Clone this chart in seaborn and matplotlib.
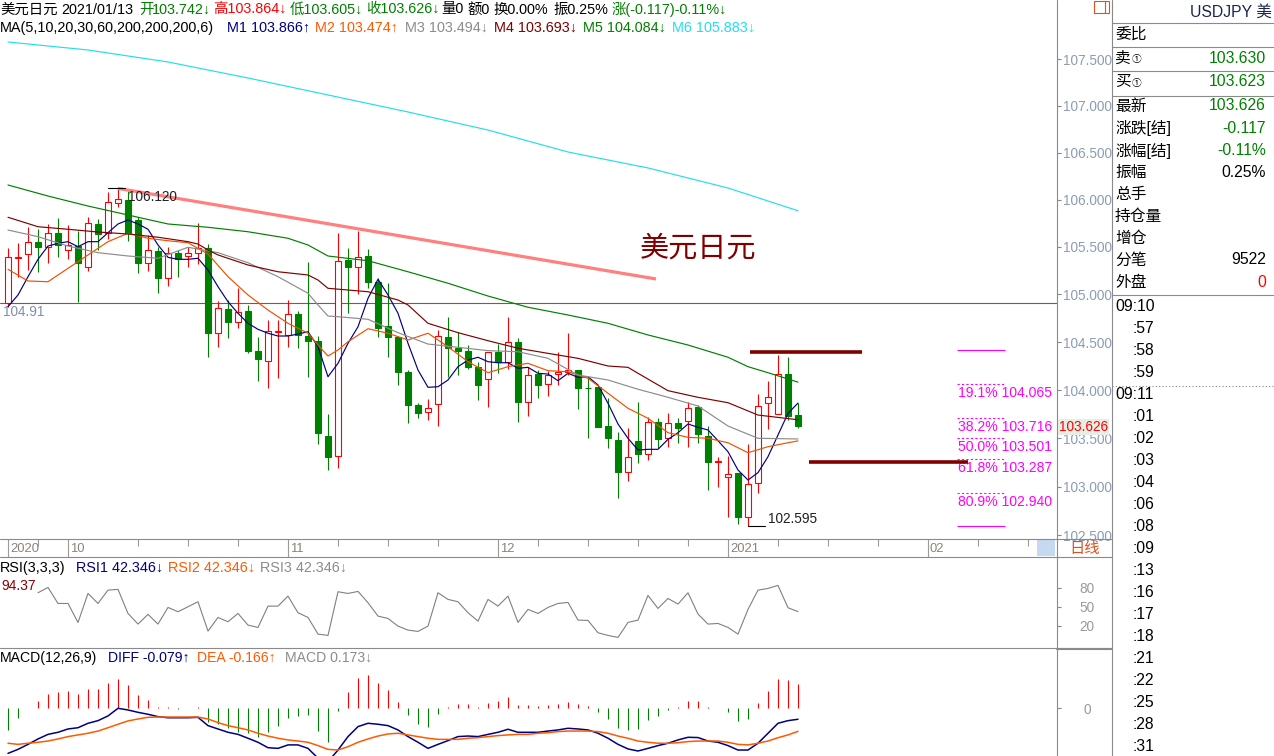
import numpy as np
import pandas as pd
import seaborn as sns
import matplotlib.pyplot as plt
import matplotlib.ticker as mticker
from matplotlib.lines import Line2D
from matplotlib.patches import Rectangle

# ---------------- data ----------------
opens = [104.914, 105.389, 105.422, 105.556, 105.503, 105.645, 105.468, 105.510, 105.292, 105.743,
         105.651, 105.962, 105.997, 105.785, 105.328, 105.458, 105.170, 105.433, 105.405, 105.433,
         105.492, 104.594, 104.845, 104.715, 104.827, 104.408, 104.307, 104.604, 104.576, 104.792,
         104.565, 104.513, 103.525, 103.318, 105.363, 105.292, 105.405, 105.134, 104.670, 104.558,
         104.192, 103.846, 103.770, 103.853, 104.558, 104.437, 104.408, 104.245, 104.113, 104.401,
         104.297, 104.505, 103.880, 104.168, 104.061, 104.168, 104.192, 104.210, 104.026, 104.036,
         103.628, 103.483, 103.150, 103.473, 103.339, 103.667, 103.501, 103.656, 103.683, 103.822,
         103.525, 103.259, 103.104, 103.146, 102.693, 103.036, 103.864, 103.750, 104.168, 103.742]
highs = [105.486, 105.539, 105.708, 105.687, 105.743, 105.809, 105.732, 105.669, 105.814, 105.796,
         106.080, 106.120, 106.095, 105.820, 105.627, 105.503, 105.497, 105.468, 105.503, 105.757,
         105.531, 104.932, 104.942, 105.065, 104.890, 104.558, 104.733, 104.733, 104.942, 104.827,
         105.339, 104.565, 103.753, 105.645, 105.486, 105.669, 105.476, 105.170, 105.118, 104.558,
         104.210, 103.864, 103.906, 104.628, 104.761, 104.610, 104.471, 104.297, 104.401, 104.481,
         104.761, 104.541, 104.245, 104.210, 104.203, 104.401, 104.600, 104.210, 104.140, 104.036,
         103.916, 103.569, 103.604, 103.880, 103.725, 103.708, 103.766, 103.708, 103.880, 103.846,
         103.628, 103.311, 103.318, 103.146, 103.439, 103.957, 104.096, 104.367, 104.343, 103.864]
lows = [104.872, 105.187, 105.257, 105.239, 105.334, 105.391, 105.370, 104.924, 105.250, 105.468,
        105.581, 105.920, 105.566, 105.229, 105.250, 105.019, 105.092, 105.181, 105.292, 105.320,
        104.343, 104.453, 104.541, 104.646, 104.384, 104.099, 104.020, 104.124, 104.453, 104.437,
        104.140, 103.442, 103.173, 103.191, 104.809, 105.005, 105.065, 104.552, 104.349, 104.054,
        103.656, 103.708, 103.690, 103.631, 104.140, 104.158, 104.218, 103.898, 103.822, 104.176,
        104.218, 103.673, 103.735, 103.916, 103.943, 104.054, 104.158, 103.801, 103.501, 103.621,
        103.397, 102.882, 103.063, 103.243, 103.276, 103.397, 103.414, 103.455, 103.408, 103.455,
        102.967, 102.995, 102.693, 102.620, 102.595, 102.940, 103.597, 103.750, 103.690, 103.605]
closes = [105.391, 105.399, 105.556, 105.503, 105.645, 105.521, 105.521, 105.328, 105.750, 105.637,
          105.973, 106.011, 105.645, 105.334, 105.468, 105.176, 105.433, 105.370, 105.436, 105.486,
          104.594, 104.855, 104.715, 104.819, 104.408, 104.322, 104.621, 104.621, 104.792, 104.576,
          104.516, 103.553, 103.304, 105.352, 105.292, 105.398, 105.134, 104.646, 104.558, 104.192,
          103.846, 103.766, 103.812, 104.565, 104.437, 104.412, 104.245, 104.054, 104.401, 104.297,
          104.499, 103.880, 104.158, 104.054, 104.158, 104.192, 104.210, 104.026, 104.020, 103.621,
          103.501, 103.156, 103.304, 103.335, 103.673, 103.494, 103.656, 103.611, 103.818, 103.542,
          103.259, 103.270, 103.129, 102.693, 103.026, 103.836, 103.926, 104.165, 103.735, 103.626]

ma5 = [104.872, 104.995, 105.187, 105.370, 105.510, 105.539, 105.556, 105.503, 105.556, 105.556,
       105.651, 105.743, 105.785, 105.743, 105.687, 105.521, 105.391, 105.370, 105.370, 105.381,
       105.257, 105.082, 104.924, 104.803, 104.698, 104.635, 104.594, 104.565, 104.565, 104.586,
       104.610, 104.453, 104.140, 104.280, 104.489, 104.662, 104.960, 105.160, 104.995, 104.803,
       104.489, 104.210, 104.030, 104.036, 104.106, 104.245, 104.314, 104.343, 104.297, 104.286,
       104.286, 104.228, 104.238, 104.176, 104.168, 104.099, 104.176, 104.134, 104.140, 104.054,
       103.864, 103.649, 103.501, 103.380, 103.387, 103.387, 103.490, 103.559, 103.649, 103.615,
       103.587, 103.476, 103.362, 103.173, 103.070, 103.146, 103.311, 103.535, 103.760, 103.866]
ma10_x = [0, 2, 4, 6, 8, 10, 12, 14, 16, 18, 20, 22, 24, 26, 28, 30, 31, 32, 33, 34, 36, 38,
          40, 42, 44, 46, 48, 50, 52, 54, 56, 58, 60, 62, 64, 66, 68, 70, 72, 74, 76, 78, 79]
ma10 = [105.265, 105.142, 105.134, 105.275, 105.416, 105.556, 105.645, 105.592, 105.566, 105.545,
        105.426, 105.187, 104.995, 104.837, 104.698, 104.594, 104.471, 104.356, 104.419, 104.505,
        104.641, 104.594, 104.523, 104.594, 104.453, 104.297, 104.182, 104.245, 104.280, 104.203,
        104.192, 104.124, 103.968, 103.812, 103.708, 103.559, 103.511, 103.501, 103.455, 103.352,
        103.414, 103.455, 103.474]
ma20_x = [0, 3, 6, 9, 12, 15, 18, 21, 24, 27, 30, 31, 32, 33, 36, 39, 42, 45, 48, 51, 54, 57,
          60, 63, 66, 69, 72, 75, 79]
ma20 = [105.679, 105.609, 105.510, 105.440, 105.405, 105.381, 105.497, 105.440, 105.334, 105.187,
        105.013, 104.890, 104.774, 104.767, 104.740, 104.600, 104.481, 104.447, 104.412, 104.401,
        104.332, 104.158, 104.106, 104.010, 103.926, 103.836, 103.628, 103.501, 103.494]
ma30_x = [0, 3, 6, 9, 12, 15, 18, 19, 20, 21, 24, 27, 30, 31, 32, 36, 39, 40, 42, 45, 48, 51,
          54, 57, 60, 62, 63, 66, 69, 72, 75, 79]
ma30 = [105.814, 105.714, 105.687, 105.658, 105.637, 105.603, 105.556, 105.531, 105.468, 105.416,
        105.310, 105.239, 105.205, 105.152, 105.065, 105.029, 104.942, 104.890, 104.698, 104.600,
        104.516, 104.437, 104.384, 104.332, 104.252, 104.238, 104.176, 103.995, 103.926, 103.870,
        103.742, 103.693]
ma60_x = [0, 4, 8, 12, 16, 20, 24, 28, 30, 32, 36, 40, 44, 48, 52, 56, 60, 64, 68, 72, 74, 76, 79]
ma60 = [106.156, 106.039, 105.933, 105.838, 105.743, 105.708, 105.661, 105.592, 105.521, 105.405,
        105.355, 105.239, 105.118, 104.984, 104.866, 104.785, 104.698, 104.576, 104.471, 104.343,
        104.245, 104.182, 104.084]
ma200_x = [0, 8, 16, 24, 32, 40, 48, 56, 64, 72, 79]
ma200 = [107.685, 107.599, 107.470, 107.298, 107.116, 106.934, 106.741, 106.507, 106.337, 106.124,
         105.883]

rsi_x = list(range(3, 80))
rsi = [72.1, 80.5, 55.2, 55.2, 25.2, 71.0, 55.2, 76.3, 77.4, 39.4, 22.6, 37.9, 22.6, 48.9, 42.1,
       50.0, 57.9, 11.5, 33.1, 26.3, 39.4, 21.0, 17.3, 51.0, 51.0, 66.8, 40.5, 33.1, 6.8, 4.7,
       73.7, 71.0, 74.2, 56.3, 35.2, 31.5, 19.4, 13.1, 11.0, 19.4, 72.1, 61.6, 57.9, 40.5, 27.3,
       61.6, 51.0, 66.8, 25.2, 45.8, 39.4, 48.9, 55.2, 56.8, 28.9, 28.4, 8.9, 4.7, 1.5, 25.2,
       28.9, 67.9, 47.3, 63.1, 54.2, 72.1, 38.4, 22.6, 23.6, 17.3, 6.8, 45.8, 76.3, 78.9, 83.7,
       48.4, 42.3]

macd_hist = [-0.156, -0.068, 0.005, 0.055, 0.103, 0.120, 0.125, 0.103, 0.142, 0.142,
             0.185, 0.211, 0.168, 0.096, 0.060, 0.007, 0.007, -0.003, 0.0, 0.007,
             -0.096, -0.111, -0.144, -0.168, -0.180, -0.204, -0.168, -0.125, -0.068, -0.055,
             -0.048, -0.163, -0.245, -0.017, 0.120, 0.221, 0.240, 0.185, 0.132, 0.048,
             -0.048, -0.113, -0.132, -0.041, 0.007, 0.031, 0.031, 0.012, 0.041, 0.055,
             0.084, 0.024, 0.024, 0.017, 0.024, 0.031, 0.048, 0.031, 0.017, -0.024,
             -0.077, -0.139, -0.156, -0.149, -0.084, -0.055, -0.012, 0.012, 0.055, 0.055,
             0.012, 0.0, -0.024, -0.091, -0.077, 0.041, 0.127, 0.211, 0.207, 0.173]
diff = [-0.325, -0.296, -0.260, -0.221, -0.188, -0.173, -0.149, -0.140, -0.108, -0.089,
        -0.055, 0.000, -0.012, -0.029, -0.043, -0.060, -0.068, -0.068, -0.068, -0.065,
        -0.125, -0.149, -0.173, -0.188, -0.216, -0.245, -0.284, -0.289, -0.264, -0.264,
        -0.289, -0.360, -0.385, -0.301, -0.204, -0.132, -0.108, -0.115, -0.125, -0.156,
        -0.204, -0.245, -0.289, -0.260, -0.233, -0.204, -0.200, -0.204, -0.188, -0.173,
        -0.151, -0.173, -0.173, -0.173, -0.164, -0.156, -0.144, -0.149, -0.156, -0.180,
        -0.216, -0.260, -0.293, -0.308, -0.289, -0.269, -0.252, -0.228, -0.209, -0.211,
        -0.236, -0.245, -0.269, -0.301, -0.301, -0.252, -0.180, -0.108, -0.089, -0.079]
dea = [-0.252, -0.260, -0.252, -0.245, -0.236, -0.221, -0.204, -0.192, -0.180, -0.164,
       -0.140, -0.115, -0.091, -0.077, -0.065, -0.063, -0.063, -0.063, -0.063, -0.063,
       -0.077, -0.103, -0.125, -0.140, -0.156, -0.180, -0.200, -0.216, -0.228, -0.236,
       -0.245, -0.269, -0.296, -0.301, -0.277, -0.245, -0.221, -0.200, -0.185, -0.180,
       -0.192, -0.204, -0.216, -0.224, -0.224, -0.224, -0.216, -0.212, -0.204, -0.197,
       -0.192, -0.188, -0.188, -0.180, -0.176, -0.168, -0.164, -0.164, -0.164, -0.168,
       -0.180, -0.200, -0.216, -0.236, -0.245, -0.252, -0.252, -0.248, -0.240, -0.236,
       -0.236, -0.236, -0.245, -0.260, -0.264, -0.252, -0.236, -0.212, -0.192, -0.166]

fib_labels = ['19.1%', '38.2%', '50.0%', '61.8%', '80.9%']
fib_prices = [104.065, 103.716, 103.501, 103.287, 102.940]
fib_top, fib_bottom = 104.415, 102.595

panel_labels = ['委比', '卖', '买', '最新', '涨跌[结]', '涨幅[结]', '振幅', '总手', '持仓量', '增仓', '分笔', '外盘']
panel_values = ['', '103.630', '103.623', '103.626', '-0.117', '-0.11%', '0.25%', '', '', '', '9522', '0']
times = ['09:10', ':57', ':58', ':59', '09:11', ':01', ':02', ':03', ':04', ':06', ':08', ':09',
         ':13', ':16', ':17', ':18', ':21', ':22', ':25', ':28', ':31']

# trading days (1 Jan skipped by the feed)
dates = pd.bdate_range('2020-09-23', '2021-02-26')
dates = dates[dates != pd.Timestamp('2021-01-01')]

# ---------------- figure ----------------
sns.set_style('white')
plt.rcParams['font.family'] = ['Liberation Sans', 'Noto Sans CJK SC', 'DejaVu Sans']

W, H = 1274, 756
fig = plt.figure(figsize=(W / 100, H / 100), dpi=100)
fig.patch.set_facecolor('white')
XLIM = (-0.8, 104.9)
GREEN, RED, NAVY, ORANGE = '#008000', '#ff0000', '#000080', '#ff5a00'
AXCOL = '#8c9db3'


def box(x0, y0, x1, y1):
    return [x0 / W, 1 - y1 / H, (x1 - x0) / W, (y1 - y0) / H]


def ftext(x, y, s, color='black', size=10.4, **kw):
    fig.text(x / W, 1 - y / H, s, color=color, fontsize=size, va='center', **kw)


def fline(x0, y0, x1, y1, color='#8a8a8a', lw=0.8, **kw):
    fig.add_artist(Line2D([x0 / W, x1 / W], [1 - y0 / H, 1 - y1 / H],
                          color=color, lw=lw, transform=fig.transFigure, **kw))


def clean(a):
    for s in a.spines.values():
        s.set_visible(False)
    a.set_xlim(*XLIM)
    a.set_xticks([])
    a.set_xlabel('')
    a.set_ylabel('')
    a.set_facecolor('none')


# ---- main price panel ----
ax = fig.add_axes(box(0, 0, 1057, 539))
ax.set_yscale('log')
idx = np.arange(len(opens))
o, h, l, c = map(np.array, (opens, highs, lows, closes))
up = c >= o
col = np.where(up, RED, GREEN)
ax.vlines(idx, l, h, colors=col, lw=0.8, zorder=2)
ax.bar(idx, np.abs(c - o), bottom=np.minimum(o, c), width=0.66,
       color=np.where(up, 'white', GREEN), edgecolor=col, linewidth=0.8, zorder=3)

for xs, ys, cl in [(idx, ma5, NAVY), (ma10_x, ma10, '#f05000'), (ma20_x, ma20, '#8c8c8c'),
                   (ma30_x, ma30, '#800000'), (ma60_x, ma60, '#008000'), (ma200_x, ma200, '#22ddf0')]:
    sns.lineplot(x=xs, y=ys, ax=ax, color=cl, linewidth=0.85, legend=False, zorder=4)

ax.axhline(104.91, color='#9c4a4a', lw=0.8, zorder=1)
ax.text(-0.5, 104.816, '104.91', color='#7f8fa8', fontsize=9.8, va='center', ha='left')
ax.plot([11, 64.8], [106.12, 105.163], color='#ff8080', lw=2.3, zorder=5, solid_capstyle='butt')
ax.plot([10, 11.7], [106.12, 106.12], color='black', lw=0.8, zorder=5)
ax.text(12.0, 106.029, '106.120', color='#202020', fontsize=9.8, va='center', zorder=6)
ax.plot([74, 75.7], [102.595, 102.595], color='black', lw=0.8, zorder=5)
ax.text(76.0, 102.664, '102.595', color='#202020', fontsize=9.8, va='center', zorder=6)
ax.text(69, 105.479, '美元日元', color='#800000', fontsize=21, ha='center', va='center')
ax.hlines(104.398, 74.2, 85.4, color='#800000', lw=2.6, zorder=6)
ax.hlines(103.251, 80.1, 96.0, color='#800000', lw=2.6, zorder=6)

ax.hlines([fib_top, fib_bottom], 94.9, 99.7, color='#ff00ff', lw=0.8)
for lab, p in zip(fib_labels, fib_prices):
    ax.hlines(p, 94.9, 99.7, color='#ff00ff', lw=0.8, linestyles=(0, (2, 2)))
    ax.annotate(f'{lab} {p:.3f}', xy=(95.0, p), xytext=(0, -1.5), textcoords='offset points',
                color='#ff00ff', fontsize=10.1, va='top', ha='left', annotation_clip=False)

clean(ax)
ax.set_ylim(102.464, 108.138)
ax.yaxis.tick_right()
ax.yaxis.set_major_locator(mticker.FixedLocator(np.arange(102.5, 107.51, 0.5)))
ax.yaxis.set_major_formatter(mticker.FormatStrFormatter('%.3f'))
ax.yaxis.set_minor_locator(mticker.NullLocator())
ax.yaxis.set_minor_formatter(mticker.NullFormatter())
ax.tick_params(axis='y', direction='out', length=3, width=0.8, color='#888888',
               labelcolor=AXCOL, labelsize=9.8, pad=1)

# ---- date strip ----
axd = fig.add_axes(box(0, 539, 1057, 557))
clean(axd)
axd.set_ylim(0, 1)
axd.set_yticks([])
month_idx = [0] + [i for i in range(1, len(dates)) if dates[i].month != dates[i - 1].month]
week_idx = [i for i in range(len(dates)) if dates[i].weekday() == 0
            and min(abs(i - m) for m in month_idx) > 2]
for i in month_idx:
    d = dates[i]
    lab = str(d.year) if (i == 0 or d.month == 1) else f'{d.month:02d}'
    axd.vlines(i, 0, 1, color='#9a9a9a', lw=0.8)
    axd.text(i + 0.2, 0.45, lab, color='#8b8378', fontsize=9.4, va='center', ha='left', clip_on=True)
axd.vlines(week_idx, 0.62, 1, color='#9a9a9a', lw=0.8)

# ---- RSI panel ----
axr = fig.add_axes(box(0, 558, 1057, 647))
sns.lineplot(x=rsi_x, y=rsi, ax=axr, color='#808080', linewidth=0.8, legend=False)
clean(axr)
axr.set_ylim(-13.6, 127)
axr.yaxis.tick_right()
axr.set_yticks([20, 50, 80])
axr.tick_params(axis='y', direction='out', length=3, width=0.8, color='#888888',
                labelcolor='#9a9a9a', labelsize=9.8, pad=13)

# ---- MACD panel ----
axm = fig.add_axes(box(0, 648, 1057, 756))
hist = np.array(macd_hist)
axm.vlines(idx, 0, hist, colors=np.where(hist >= 0, RED, GREEN), lw=0.8)
sns.lineplot(x=idx, y=diff, ax=axm, color=NAVY, linewidth=1.1, legend=False)
sns.lineplot(x=idx, y=dea, ax=axm, color=ORANGE, linewidth=1.1, legend=False)
clean(axm)
axm.set_ylim(-0.344, 0.435)
axm.yaxis.tick_right()
axm.set_yticks([0])
axm.yaxis.set_major_formatter(mticker.FormatStrFormatter('%d'))
axm.tick_params(axis='y', direction='out', length=3, width=0.8, color='#888888',
                labelcolor='#9a9a9a', labelsize=9.8, pad=16)

# ---- frame lines ----
fline(1057, 0, 1057, 756)
fline(1112, 0, 1112, 756)
fline(0, 539, 1112, 539)
fline(0, 557, 1112, 557)
fline(0, 647.5, 1112, 647.5)
fline(1057, 648.5, 1112, 648.5, lw=1.5)
for yy in [23.3, 47.3, 70.7, 95.7, 295]:
    fline(1112, yy, 1274, yy)
fline(1112, 385.7, 1274, 385.7, ls=(0, (1, 2)))
fig.add_artist(Rectangle((1037 / W, 1 - 556 / H), 18 / W, 16 / H, transform=fig.transFigure,
                         facecolor='#c5daf0', edgecolor='none'))
fig.add_artist(Rectangle((1094 / W, 1 - 13 / H), 15 / W, 12 / H, transform=fig.transFigure,
                         facecolor='none', edgecolor='#e05020', lw=0.8))
fline(1105, 1, 1105, 13, color='#e05020')
ftext(1069, 549, '日线', color='#e0501a', size=11)
ftext(1059, 427, '103.626', color=RED, size=9.8,
      bbox=dict(facecolor='#e6efe6', edgecolor='none', pad=0.4))

# ---- header texts ----
row1 = [('美元日元', 0, 'black'), ('2021/01/13', 61, 'black'), ('开', 139, GREEN),
        ('103.742↓', 152, GREEN), ('高103.864↓', 213, RED), ('低103.605↓', 290, GREEN),
        ('收103.626↓', 366, GREEN), ('量0', 441, 'black'), ('额0', 467, 'black'),
        ('换0.00%', 494, 'black'), ('振0.25%', 554, 'black'), ('涨(-0.117)-0.11%↓', 612, GREEN)]
for s, x, cl in row1:
    ftext(x, 9.5, s, color=cl)
row2 = [('MA(5,10,20,30,60,200,200,200,6)', 0, 'black'), ('M1 103.866↑', 227, NAVY),
        ('M2 103.474↑', 315, ORANGE), ('M3 103.494↓', 405, '#8c8c8c'), ('M4 103.693↓', 494, '#800000'),
        ('M5 104.084↓', 583, GREEN), ('M6 105.883↓', 672, '#22ddf8')]
for s, x, cl in row2:
    ftext(x, 28, s, color=cl)
for s, x, cl in [('RSI(3,3,3)', 0, 'black'), ('RSI1 42.346↓', 76, NAVY),
                 ('RSI2 42.346↓', 168, ORANGE), ('RSI3 42.346↓', 260, '#8c8c8c')]:
    ftext(x, 568, s, color=cl)
ftext(1, 586, '94.37', color='#8b0000', size=10)
for s, x, cl in [('MACD(12,26,9)', 0, 'black'), ('DIFF -0.079↑', 108, NAVY),
                 ('DEA -0.166↑', 197, ORANGE), ('MACD 0.173↓', 285, '#8c8c8c')]:
    ftext(x, 658, s, color=cl, size=10.1)

# ---- right info panel ----
ftext(1272, 12.3, 'USDJPY 美', color='#1a2550', size=11.3, ha='right')
rows_y = [34.3, 58.3, 81.7, 106, 128.3, 150.7, 172.7, 194, 216.7, 238.3, 260, 282.7]
val_cols = ['black', GREEN, GREEN, GREEN, GREEN, GREEN, 'black', 'black', 'black', 'black', 'black', RED]
for lab, val, yy, vc in zip(panel_labels, panel_values, rows_y, val_cols):
    ftext(1115, yy, lab, size=11.3)
    if lab in ('卖', '买'):
        ftext(1132, yy + 1, '①', size=7)
    if val:
        ftext(1266, yy, val, color=vc, size=11.3, ha='right')
for k, t in enumerate(times):
    ftext(1115 if t.startswith('09') else 1133, 306.7 + 22 * k, t, size=11.3)

fig.savefig('out.png', dpi=100)
